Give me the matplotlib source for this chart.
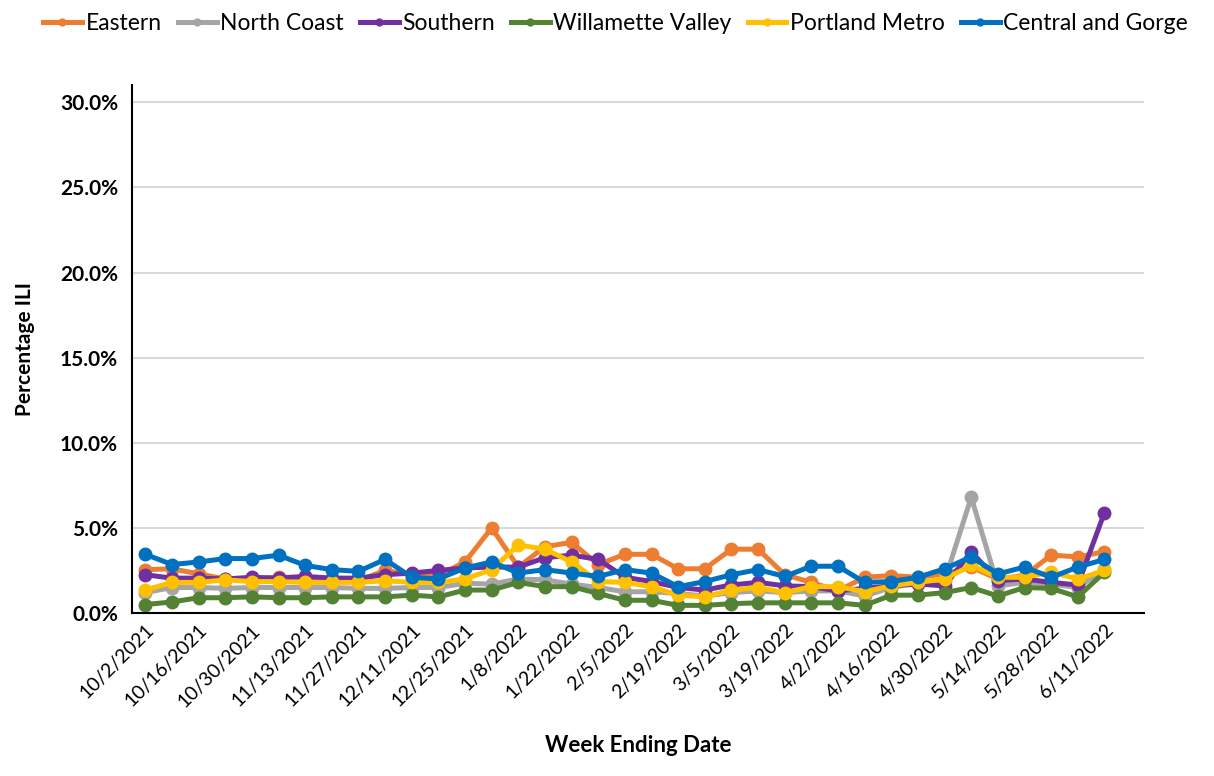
import matplotlib
matplotlib.use("Agg")
import matplotlib.pyplot as plt
from matplotlib.ticker import FuncFormatter, MultipleLocator

weeks = ["10/2/2021", "10/9/2021", "10/16/2021", "10/23/2021", "10/30/2021", "11/6/2021",
         "11/13/2021", "11/20/2021", "11/27/2021", "12/4/2021", "12/11/2021", "12/18/2021",
         "12/25/2021", "1/1/2022", "1/8/2022", "1/15/2022", "1/22/2022", "1/29/2022",
         "2/5/2022", "2/12/2022", "2/19/2022", "2/26/2022", "3/5/2022", "3/12/2022",
         "3/19/2022", "3/26/2022", "4/2/2022", "4/9/2022", "4/16/2022", "4/23/2022",
         "4/30/2022", "5/7/2022", "5/14/2022", "5/21/2022", "5/28/2022", "6/4/2022", "6/11/2022"]

eastern = [2.55, 2.6, 2.3, 2.0, 2.0, 2.1, 2.1, 1.9, 1.9, 2.5, 2.25, 2.2, 3.0, 5.0, 2.7, 3.9, 4.15,
           2.85, 3.45, 3.45, 2.6, 2.6, 3.75, 3.75, 2.25, 1.8, 1.3, 2.1, 2.2, 2.1, 2.3, 2.7, 2.0,
           2.2, 3.4, 3.3, 3.6]
north_coast = [1.2, 1.5, 1.5, 1.45, 1.5, 1.5, 1.5, 1.5, 1.45, 1.45, 1.5, 1.5, 1.75, 1.7, 2.0, 1.95,
               1.7, 1.5, 1.25, 1.25, 1.15, 1.0, 1.2, 1.3, 1.2, 1.3, 1.3, 1.0, 1.5, 1.8, 1.9, 6.8,
               1.6, 1.8, 1.7, 1.5, 2.6]
southern = [2.25, 2.05, 2.05, 2.0, 2.1, 2.05, 2.15, 2.05, 2.05, 2.25, 2.35, 2.5, 2.65, 2.7, 2.7,
            3.25, 3.4, 3.15, 2.1, 1.85, 1.5, 1.35, 1.65, 1.8, 1.6, 1.55, 1.3, 1.45, 1.6, 1.7,
            1.6, 3.6, 1.9, 2.0, 1.8, 1.65, 5.9]
willamette = [0.5, 0.65, 0.9, 0.9, 0.95, 0.9, 0.9, 0.95, 0.95, 0.95, 1.05, 0.95, 1.35, 1.35, 1.8,
              1.55, 1.55, 1.15, 0.75, 0.75, 0.45, 0.45, 0.55, 0.6, 0.6, 0.6, 0.6, 0.45, 1.05,
              1.05, 1.2, 1.5, 1.0, 1.5, 1.45, 0.95, 2.4]
portland = [1.35, 1.8, 1.8, 1.95, 1.85, 1.85, 1.8, 1.8, 1.8, 1.9, 1.8, 1.8, 2.0, 2.55, 4.0, 3.75,
            3.0, 1.85, 1.8, 1.55, 1.05, 0.95, 1.35, 1.5, 1.2, 1.55, 1.55, 1.25, 1.6, 1.8, 2.0,
            2.8, 2.1, 2.1, 2.4, 2.0, 2.5]
central = [3.45, 2.85, 3.0, 3.2, 3.2, 3.4, 2.8, 2.55, 2.45, 3.15, 2.1, 2.0, 2.65, 3.0, 2.35, 2.55,
           2.35, 2.15, 2.55, 2.35, 1.55, 1.85, 2.25, 2.55, 2.15, 2.75, 2.75, 1.8, 1.85, 2.1, 2.6,
           3.3, 2.3, 2.7, 2.1, 2.7, 3.15]

series_names = ["Eastern", "North Coast", "Southern", "Willamette Valley", "Portland Metro",
                "Central and Gorge"]
series_values = [eastern, north_coast, southern, willamette, portland, central]
colors = ["#ED7D31", "#A5A5A5", "#7030A0", "#548235", "#FFC000", "#0070C0"]

plt.rcParams['font.family'] = ['Lato', 'DejaVu Sans']

fig = plt.figure(figsize=(12.14, 7.76), dpi=100)
ax = fig.add_axes([0.1087, 0.210, 0.834, 0.680])

x = list(range(len(weeks)))
for name, vals, c in zip(series_names, series_values, colors):
    ax.plot(x, [v / 100 for v in vals], color=c, lw=3.6, marker='o', ms=9,
            label=name, solid_joinstyle='round')

ax.set_xlim(-0.5, 37.5)
ax.set_ylim(0, 0.31)
ax.yaxis.set_major_locator(MultipleLocator(0.05))
ax.yaxis.set_major_formatter(FuncFormatter(lambda v, p: f"{v*100:.1f}%"))
ax.grid(axis='y', color='#D9D9D9', lw=1.5)
ax.set_axisbelow(True)

ax.set_xticks(x[::2])
ax.set_xticklabels(weeks[::2], rotation=45, ha='right', rotation_mode='anchor', fontsize=14)
ax.tick_params(axis='x', length=0, pad=6)
ax.tick_params(axis='y', length=0, pad=10, labelsize=15)
for lbl in ax.get_yticklabels():
    lbl.set_fontweight('bold')

for s in ['top', 'right']:
    ax.spines[s].set_visible(False)
ax.spines['left'].set_color('black')
ax.spines['left'].set_linewidth(1.5)
ax.spines['bottom'].set_color('black')
ax.spines['bottom'].set_linewidth(1.5)

ax.set_ylabel("Percentage ILI", fontsize=15, fontweight='bold', labelpad=18)
ax.set_xlabel("Week Ending Date", fontsize=16, fontweight='bold', labelpad=18)

handles, labels = ax.get_legend_handles_labels()
fig.legend(handles, labels, loc='upper center', bbox_to_anchor=(0.507, 1.01), ncol=6,
           frameon=False, fontsize=16.5, handlelength=1.7, handletextpad=0.15, columnspacing=0.7,
           markerscale=0.55)

fig.savefig("out.png", dpi=100)
